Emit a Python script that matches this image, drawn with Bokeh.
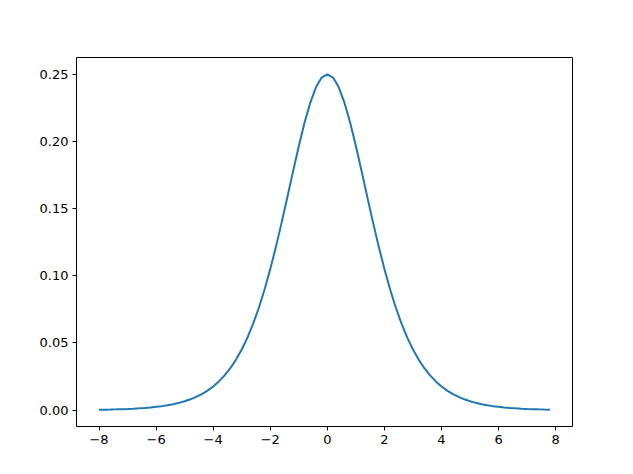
from bokeh.plotting import figure
from bokeh.models import Range1d, FixedTicker, NumeralTickFormatter
from bokeh.embed import file_html
from bokeh.resources import INLINE

xs = [-8.0, -7.8, -7.6, -7.4, -7.2, -7.0, -6.8, -6.6, -6.4, -6.2,
      -6.0, -5.8, -5.6, -5.4, -5.2, -5.0, -4.8, -4.6, -4.4, -4.2,
      -4.0, -3.8, -3.6, -3.4, -3.2, -3.0, -2.8, -2.6, -2.4, -2.2,
      -2.0, -1.8, -1.6, -1.4, -1.2, -1.0, -0.8, -0.6, -0.4, -0.2,
      0.0, 0.2, 0.4, 0.6, 0.8, 1.0, 1.2, 1.4, 1.6, 1.8,
      2.0, 2.2, 2.4, 2.6, 2.8, 3.0, 3.2, 3.4, 3.6, 3.8,
      4.0, 4.2, 4.4, 4.6, 4.8, 5.0, 5.2, 5.4, 5.6, 5.8,
      6.0, 6.2, 6.4, 6.6, 6.8, 7.0, 7.2, 7.4, 7.6, 7.8]

ys = [0.000335, 0.000409, 0.000500, 0.000611, 0.000746, 0.000910, 0.001111, 0.001356, 0.001656, 0.002021,
      0.002467, 0.003010, 0.003671, 0.004476, 0.005457, 0.006648, 0.008096, 0.009853, 0.011981, 0.014556,
      0.017663, 0.021402, 0.025890, 0.031252, 0.037632, 0.045177, 0.054038, 0.064358, 0.076255, 0.089800,
      0.104994, 0.121729, 0.139764, 0.158685, 0.177894, 0.196612, 0.213910, 0.228784, 0.240261, 0.247517,
      0.250000, 0.247517, 0.240261, 0.228784, 0.213910, 0.196612, 0.177894, 0.158685, 0.139764, 0.121729,
      0.104994, 0.089800, 0.076255, 0.064358, 0.054038, 0.045177, 0.037632, 0.031252, 0.025890, 0.021402,
      0.017663, 0.014556, 0.011981, 0.009853, 0.008096, 0.006648, 0.005457, 0.004476, 0.003671, 0.003010,
      0.002467, 0.002021, 0.001656, 0.001356, 0.001111, 0.000910, 0.000746, 0.000611, 0.000500, 0.000409]

x_ticks = [-8, -6, -4, -2, 0, 2, 4, 6, 8]
x_tick_labels = ["\u22128", "\u22126", "\u22124", "\u22122", "0", "2", "4", "6", "8"]
y_ticks = [0.0, 0.05, 0.10, 0.15, 0.20, 0.25]

xmin, xmax = min(xs), max(xs)
ymin, ymax = min(ys), max(ys)
xm = (xmax - xmin) * 0.05
ym = (ymax - ymin) * 0.05

p = figure(width=625, height=466, output_backend="svg", toolbar_location=None,
           x_range=Range1d(xmin - xm, xmax + xm), y_range=Range1d(ymin - ym, ymax + ym),
           min_border_left=76, min_border_right=53, min_border_top=57, min_border_bottom=40)
p.line(xs, ys, line_color="#1f77b4", line_width=2)

p.grid.visible = False
p.outline_line_color = "black"
p.outline_line_width = 1
p.background_fill_color = "white"
p.border_fill_color = "white"

p.xaxis.ticker = FixedTicker(ticks=x_ticks)
p.xaxis.major_label_overrides = {t: l for t, l in zip(x_ticks, x_tick_labels)}
p.yaxis.ticker = FixedTicker(ticks=y_ticks)
p.yaxis.formatter = NumeralTickFormatter(format="0.00")
for ax in (p.xaxis, p.yaxis):
    ax.major_tick_out = 4
    ax.major_tick_in = 0
    ax.minor_tick_out = 0
    ax.minor_tick_in = 0
    ax.axis_line_color = None
    ax.major_label_text_font = "DejaVu Sans"
    ax.major_label_text_font_size = "13px"
    ax.major_label_text_color = "black"
    ax.major_tick_line_color = "black"
    ax.major_label_standoff = 4

open("out.html", "w").write(file_html(p, INLINE))
